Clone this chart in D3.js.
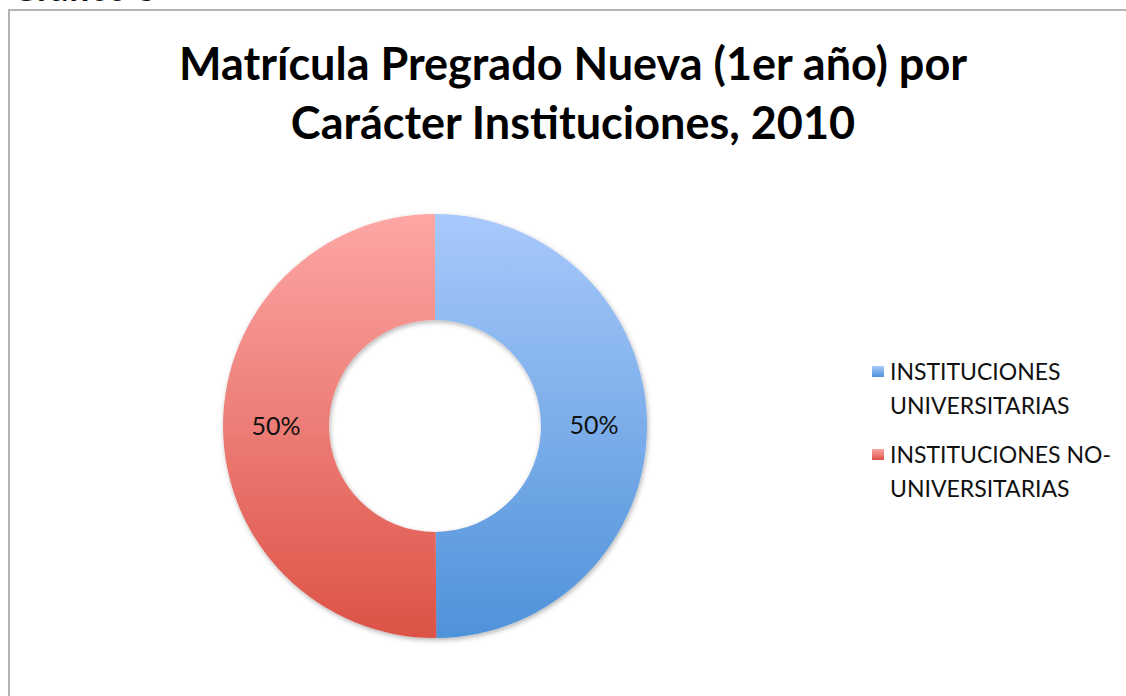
<!DOCTYPE html>
<html lang="es">
<head>
<meta charset="utf-8">
<title>Matrícula Pregrado Nueva</title>
<script src="https://d3js.org/d3.v7.min.js"></script>
<style>
  body { margin: 0; background: #fff; }
  text { font-family: Lato, "Open Sans", sans-serif; }
</style>
</head>
<body>
<script>
const categories = ["INSTITUCIONES UNIVERSITARIAS", "INSTITUCIONES NO-UNIVERSITARIAS"]
const legendLines = [["INSTITUCIONES", "UNIVERSITARIAS"], ["INSTITUCIONES NO-", "UNIVERSITARIAS"]]
const values = [49.9, 50.1]
const titleLines = ["Matrícula Pregrado Nueva (1er año) por", "Carácter Instituciones, 2010"]
const colorsTop = ["#a8c9fb", "#fda7a5"]
const colorsBottom = ["#4f92d9", "#dc5246"]

const w = 1126, h = 696
const cx = 435, cy = 426, rOuter = 212, rInner = 106

const svg = d3.select("body").append("svg")
  .attr("width", w).attr("height", h)

svg.append("rect").attr("width", w).attr("height", h).attr("fill", "#fff")

// caption above the frame, cut off by the page edge
svg.append("text")
  .attr("x", 157).attr("y", 1)
  .attr("text-anchor", "end")
  .attr("font-size", 36).attr("font-weight", "bold")
  .attr("fill", "#111")
  .text("Gráfico 3")

// frame
svg.append("rect")
  .attr("x", 9).attr("y", 10)
  .attr("width", w + 20).attr("height", h + 20)
  .attr("fill", "none").attr("stroke", "#b3b3b3").attr("stroke-width", 2)

// title
svg.selectAll(".title").data(titleLines).enter()
  .append("text").attr("class", "title")
  .attr("x", 573).attr("y", (d, i) => 80 + i * 59)
  .attr("text-anchor", "middle")
  .attr("font-size", 45).attr("font-weight", "bold")
  .attr("fill", "#000")
  .text(d => d)

const defs = svg.append("defs")
categories.forEach((c, i) => {
  const g = defs.append("linearGradient").attr("id", "grad" + i)
    .attr("gradientUnits", "userSpaceOnUse")
    .attr("x1", 0).attr("y1", -rOuter).attr("x2", 0).attr("y2", rOuter)
  g.append("stop").attr("offset", "0%").attr("stop-color", colorsTop[i])
  g.append("stop").attr("offset", "100%").attr("stop-color", colorsBottom[i])

  const lg = defs.append("linearGradient").attr("id", "lg" + i)
    .attr("x1", 0).attr("y1", 0).attr("x2", 0).attr("y2", 1)
  lg.append("stop").attr("offset", "0%").attr("stop-color", colorsTop[i])
  lg.append("stop").attr("offset", "100%").attr("stop-color", colorsBottom[i])
})
const shadow = defs.append("filter").attr("id", "shadow")
  .attr("x", "-10%").attr("y", "-10%").attr("width", "120%").attr("height", "120%")
shadow.append("feDropShadow")
  .attr("dx", 1).attr("dy", 2).attr("stdDeviation", 2.5)
  .attr("flood-color", "#000").attr("flood-opacity", 0.3)

const pie = d3.pie().sort(null).value(d => d)
const arcs = pie(values)
const arc = d3.arc().innerRadius(rInner).outerRadius(rOuter)
const total = d3.sum(values)
const pct = d3.format(".0%")

const chart = svg.append("g").attr("transform", `translate(${cx},${cy})`)
chart.append("g").attr("filter", "url(#shadow)")
  .selectAll("path").data(arcs).enter()
  .append("path")
  .attr("d", arc)
  .attr("fill", (d, i) => `url(#grad${i})`)

chart.selectAll(".lbl").data(arcs).enter()
  .append("text").attr("class", "lbl")
  .attr("transform", d => `translate(${arc.centroid(d)})`)
  .attr("dy", "0.35em")
  .attr("text-anchor", "middle")
  .attr("font-size", 25)
  .attr("fill", "#111")
  .text(d => pct(d.data / total))

// legend
const item = svg.append("g").selectAll("g").data(categories).enter()
  .append("g")
  .attr("transform", (d, i) => `translate(872,${366 + i * 83})`)
item.append("rect")
  .attr("width", 12).attr("height", 11)
  .attr("fill", (d, i) => `url(#lg${i})`)
item.each(function (d, i) {
  d3.select(this).selectAll("text").data(legendLines[i]).enter()
    .append("text")
    .attr("x", 18).attr("y", (t, j) => 14 + j * 34)
    .attr("font-size", 23)
    .attr("fill", "#111")
    .text(t => t)
})
</script>
</body>
</html>
